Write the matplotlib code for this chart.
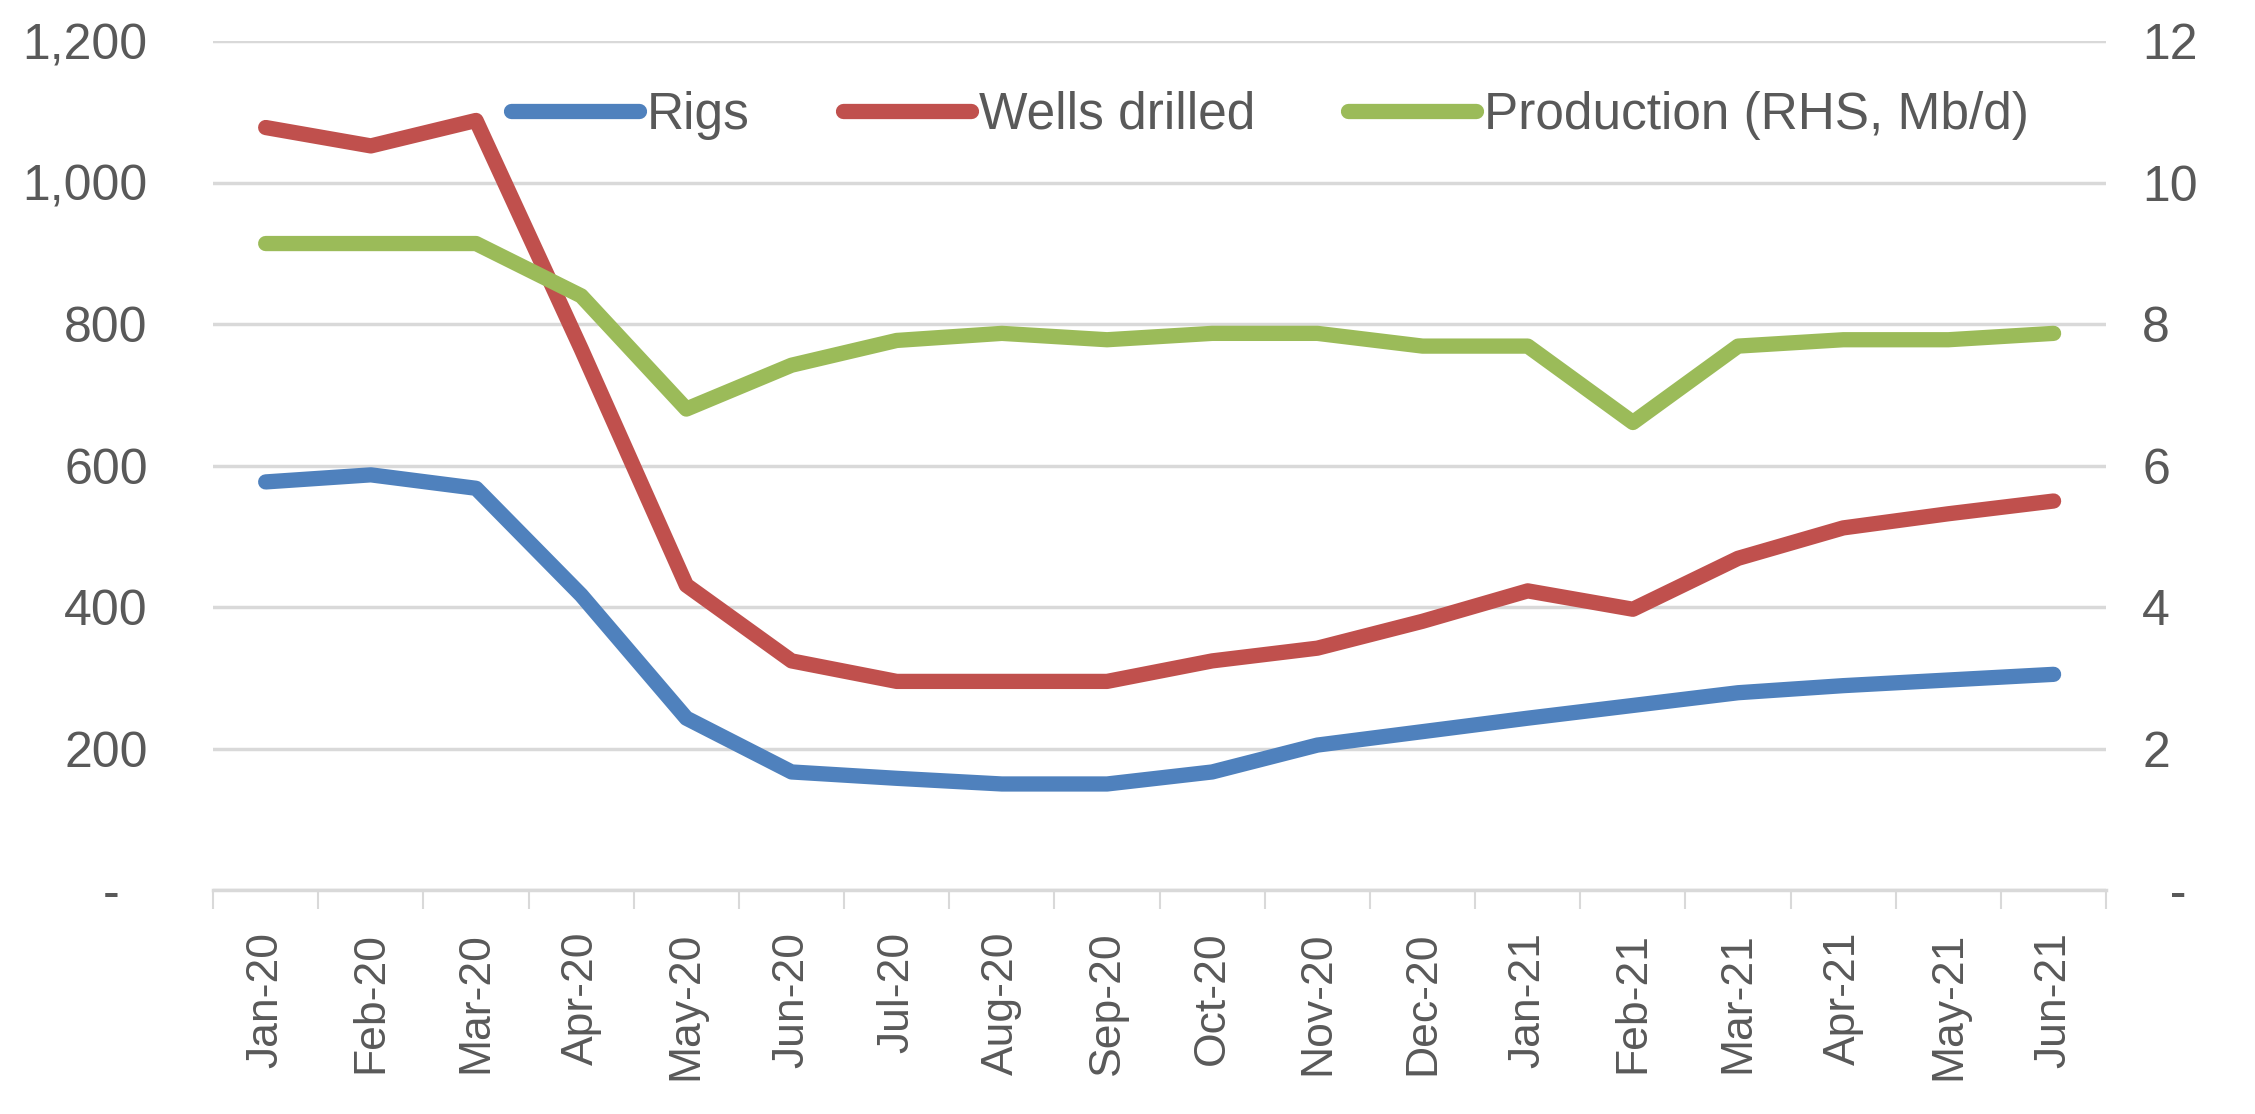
import matplotlib
matplotlib.use('Agg')
import matplotlib.pyplot as plt
import numpy as np

months = ['Jan-20', 'Feb-20', 'Mar-20', 'Apr-20', 'May-20', 'Jun-20', 'Jul-20', 'Aug-20', 'Sep-20',
          'Oct-20', 'Nov-20', 'Dec-20', 'Jan-21', 'Feb-21', 'Mar-21', 'Apr-21', 'May-21', 'Jun-21']
rigs = [577, 587, 568, 417, 243, 167, 158, 150, 150, 167, 205, 224, 243, 261, 279, 289, 297, 305]
wells = [1078, 1052, 1088, 765, 431, 324, 295, 295, 295, 324, 342, 380, 423, 397, 469, 512, 532, 550]
production = [9.14, 9.14, 9.14, 8.4, 6.8, 7.42, 7.77, 7.87, 7.78, 7.87, 7.87, 7.69, 7.69, 6.61, 7.69, 7.78, 7.78, 7.87]

left_ticks = [0, 200, 400, 600, 800, 1000, 1200]
left_labels = ['-  ', '200', '400', '600', '800', '1,000', '1,200']
right_ticks = [0, 2, 4, 6, 8, 10, 12]
right_labels = ['  -', '2', '4', '6', '8', '10', '12']

plt.rcParams['font.family'] = ['Liberation Sans', 'DejaVu Sans']
txt = '#595959'
grid = '#d9d9d9'

fig = plt.figure(figsize=(22.55, 11.14), dpi=100)
ax = fig.add_axes([0.0945, 0.201, 0.8395, 0.762])
ax2 = ax.twinx()

x = np.arange(len(months))
style = dict(lw=11, solid_capstyle='round', solid_joinstyle='round')
l1, = ax.plot(x, rigs, color='#4F81BD', label='Rigs', **style)
l2, = ax.plot(x, wells, color='#C0504D', label='Wells drilled', **style)
l3, = ax2.plot(x, production, color='#9BBB59', label='Production (RHS, Mb/d)', **style)

ax.set_xlim(-0.5, len(months) - 0.5)
ax.set_ylim(0, 1200)
ax2.set_ylim(0, 12)

ax.set_yticks(left_ticks)
ax.set_yticklabels(left_labels)
ax2.set_yticks(right_ticks)
ax2.set_yticklabels(right_labels)
ax.yaxis.grid(True, color=grid, lw=2.5)
ax.set_axisbelow(True)

ax.set_xticks(x)
ax.set_xticklabels(months, rotation=90)
ax.set_xticks(np.arange(-0.5, len(months)), minor=True)
ax.tick_params(axis='x', which='major', length=0, pad=30, labelsize=32, labelcolor=txt)
ax.tick_params(axis='x', which='minor', length=14, width=1.5, color=grid)
ax.tick_params(axis='y', length=0, pad=47, labelsize=36, labelcolor=txt)
ax2.tick_params(axis='y', length=0, pad=26, labelsize=36, labelcolor=txt)

for a in (ax, ax2):
    for s in a.spines.values():
        s.set_visible(False)
ax.spines['bottom'].set_visible(True)
ax.spines['bottom'].set_color(grid)
ax.spines['bottom'].set_linewidth(2.5)

leg = ax.legend(handles=[l1, l2, l3], loc='center left', bbox_to_anchor=(511 / 2255, 1 - 115 / 1114),
                bbox_transform=fig.transFigure, ncol=3, frameon=False, fontsize=37,
                handlelength=2.5, handletextpad=0.15, columnspacing=1.8, borderpad=0, borderaxespad=0)
for t in leg.get_texts():
    t.set_color(txt)

fig.savefig('out.png', dpi=100)
